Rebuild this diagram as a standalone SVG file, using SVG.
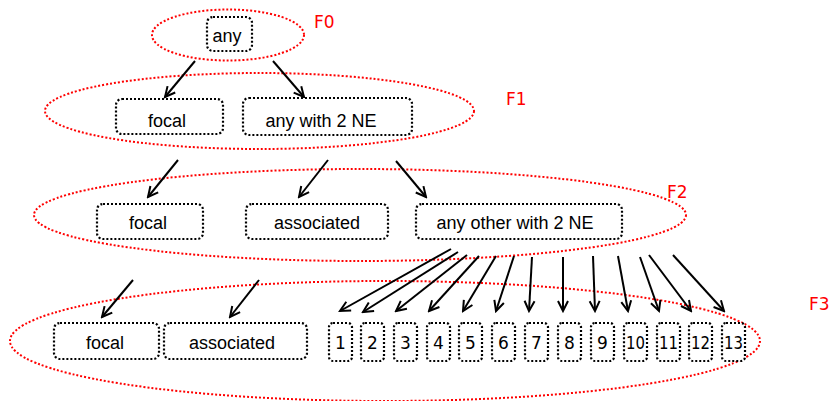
<svg xmlns="http://www.w3.org/2000/svg" width="830" height="401" viewBox="0 0 830 401">
  <style>
    .set { fill: none; stroke: #ff0000; stroke-width: 2; stroke-dasharray: 2 2; }
    .box { fill: #ffffff; stroke: #000000; stroke-width: 2.2; stroke-dasharray: 2 2; }
    .lbl { font-family: "Liberation Sans", Arial, sans-serif; font-size: 18px; fill: #000000; text-anchor: middle; }
    .num { font-family: "DejaVu Sans", Verdana, sans-serif; font-size: 17px; fill: #000000; text-anchor: middle; }
    .fl { font-family: "DejaVu Sans", Verdana, sans-serif; font-size: 17px; fill: #ff0000; }
    .edge { stroke: #000000; stroke-width: 2; fill: none; marker-end: url(#arr); }
  </style>
  <defs>
    <marker id="arr" viewBox="-12 -7 14 14" refX="0" refY="0" markerWidth="14" markerHeight="14" markerUnits="userSpaceOnUse" orient="auto">
      <path d="M-10,-5 L0,0 L-10,5" fill="none" stroke="#000000" stroke-width="2"/>
    </marker>
  </defs>
  <rect width="830" height="401" fill="#ffffff"/>

  <g id="sets">
    <ellipse id="F0-set" class="set" cx="228" cy="35" rx="76" ry="25.5"/>
    <ellipse id="F1-set" class="set" cx="259.5" cy="111" rx="214.5" ry="38"/>
    <ellipse id="F2-set" class="set" cx="360" cy="215" rx="326" ry="46"/>
    <ellipse id="F3-set" class="set" cx="385" cy="341" rx="375" ry="60"/>
    <text class="fl" x="314" y="28">F0</text>
    <text class="fl" x="506" y="105">F1</text>
    <text class="fl" x="667" y="198">F2</text>
    <text class="fl" x="809" y="310">F3</text>
  </g>

  <g id="connectors">
    <line class="edge" x1="195" y1="61" x2="165" y2="97"/>
    <line class="edge" x1="273" y1="61" x2="304" y2="97"/>
    <line class="edge" x1="178" y1="160" x2="148" y2="197"/>
    <line class="edge" x1="328" y1="160" x2="299" y2="197"/>
    <line class="edge" x1="396" y1="161" x2="426" y2="197"/>
    <line class="edge" x1="133" y1="280" x2="102" y2="317"/>
    <line class="edge" x1="259" y1="280" x2="230" y2="317"/>
    <line class="edge" x1="451" y1="249" x2="340" y2="311"/>
    <line class="edge" x1="458" y1="252" x2="363" y2="312"/>
    <line class="edge" x1="467" y1="255" x2="396" y2="311"/>
    <line class="edge" x1="479" y1="256" x2="429" y2="311"/>
    <line class="edge" x1="496" y1="256" x2="463" y2="311"/>
    <line class="edge" x1="514" y1="256" x2="496" y2="311"/>
    <line class="edge" x1="532" y1="257" x2="529" y2="311"/>
    <line class="edge" x1="563" y1="257" x2="563" y2="311"/>
    <line class="edge" x1="593" y1="256" x2="595" y2="311"/>
    <line class="edge" x1="618" y1="256" x2="628" y2="311"/>
    <line class="edge" x1="640" y1="257" x2="659" y2="311"/>
    <line class="edge" x1="649" y1="255" x2="691" y2="311"/>
    <line class="edge" x1="673" y1="255" x2="724" y2="311"/>
  </g>

  <g id="any">
    <rect class="box" x="207" y="17" width="45" height="34" rx="6"/>
    <text class="lbl" x="227" y="42">any</text>
  </g>

  <g id="f1-focal">
    <rect class="box" x="116" y="99" width="107" height="35" rx="6"/>
    <text class="lbl" x="167" y="127">focal</text>
  </g>
  <g id="f1-any2ne">
    <rect class="box" x="243" y="98" width="169" height="37" rx="6"/>
    <text class="lbl" x="321" y="127">any with 2 NE</text>
  </g>

  <g id="f2-focal">
    <rect class="box" x="97" y="204" width="106" height="35" rx="6"/>
    <text class="lbl" x="148" y="229">focal</text>
  </g>
  <g id="f2-associated">
    <rect class="box" x="246" y="204" width="142" height="35" rx="6"/>
    <text class="lbl" x="317" y="229">associated</text>
  </g>
  <g id="f2-anyother">
    <rect class="box" x="416" y="204" width="206" height="35" rx="6"/>
    <text class="lbl" x="515" y="229">any other with 2 NE</text>
  </g>

  <g id="f3-focal">
    <rect class="box" x="54" y="323" width="105" height="36" rx="6"/>
    <text class="lbl" x="105" y="349">focal</text>
  </g>
  <g id="f3-associated">
    <rect class="box" x="164" y="323" width="143" height="36" rx="6"/>
    <text class="lbl" x="232" y="349">associated</text>
  </g>

  <g id="n1"><rect class="box" x="329" y="323" width="23" height="38" rx="4"/><text class="num" x="340.5" y="349">1</text></g>
  <g id="n2"><rect class="box" x="361" y="323" width="23" height="38" rx="4"/><text class="num" x="372.5" y="349">2</text></g>
  <g id="n3"><rect class="box" x="394" y="323" width="23" height="38" rx="4"/><text class="num" x="405.5" y="349">3</text></g>
  <g id="n4"><rect class="box" x="427" y="323" width="23" height="38" rx="4"/><text class="num" x="438.5" y="349">4</text></g>
  <g id="n5"><rect class="box" x="459" y="323" width="23" height="38" rx="4"/><text class="num" x="470.5" y="349">5</text></g>
  <g id="n6"><rect class="box" x="492" y="323" width="23" height="38" rx="4"/><text class="num" x="503.5" y="349">6</text></g>
  <g id="n7"><rect class="box" x="525" y="323" width="23" height="38" rx="4"/><text class="num" x="536.5" y="349">7</text></g>
  <g id="n8"><rect class="box" x="558" y="323" width="23" height="38" rx="4"/><text class="num" x="569.5" y="349">8</text></g>
  <g id="n9"><rect class="box" x="591" y="323" width="23" height="38" rx="4"/><text class="num" x="602.5" y="349">9</text></g>
  <g id="n10"><rect class="box" x="624" y="323" width="23" height="38" rx="4"/><text class="num" x="635.5" y="349" textLength="19" lengthAdjust="spacingAndGlyphs">10</text></g>
  <g id="n11"><rect class="box" x="657" y="323" width="23" height="38" rx="4"/><text class="num" x="668.5" y="349" textLength="19" lengthAdjust="spacingAndGlyphs">11</text></g>
  <g id="n12"><rect class="box" x="689" y="323" width="23" height="38" rx="4"/><text class="num" x="700.5" y="349" textLength="19" lengthAdjust="spacingAndGlyphs">12</text></g>
  <g id="n13"><rect class="box" x="722" y="323" width="23" height="38" rx="4"/><text class="num" x="733.5" y="349" textLength="19" lengthAdjust="spacingAndGlyphs">13</text></g>
</svg>
